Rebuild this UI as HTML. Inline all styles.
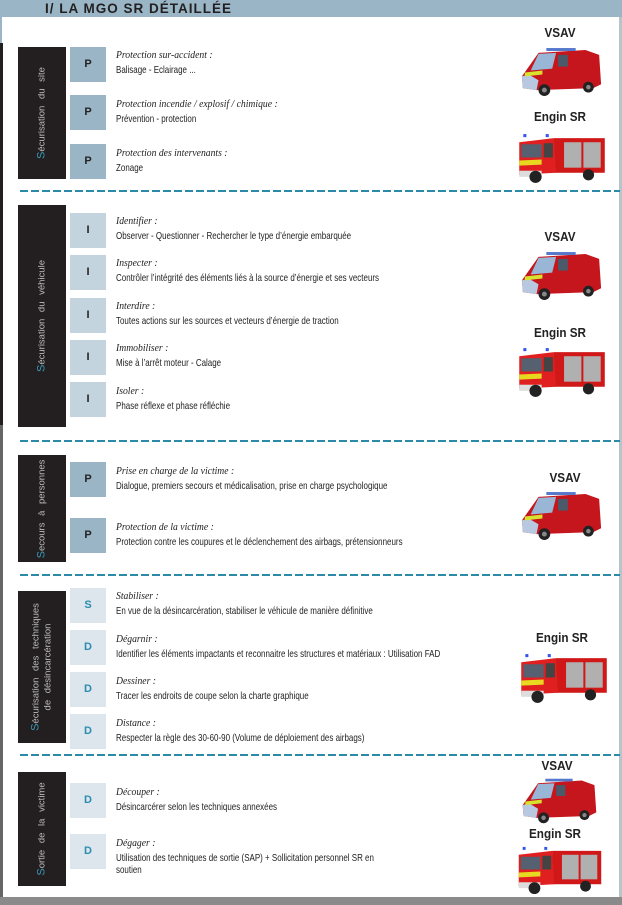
<!DOCTYPE html>
<html><head><meta charset="utf-8">
<style>
*{margin:0;padding:0;box-sizing:border-box}
body{width:622px;height:905px;position:relative;background:#fff;overflow:hidden;font-family:"Liberation Sans",sans-serif}
.a{position:absolute}
.hdr{left:0;top:0;width:622px;height:17px;background:#9ab6c6}
.ttl{left:45px;top:0px;font-weight:bold;font-size:13.5px;letter-spacing:1px;color:#231f20;line-height:17px}
.dk{background:#231f20;left:18px;width:48px}
.vt{position:absolute;left:50%;top:50%;transform:translate(-50%,-50%) rotate(-90deg);color:#bdbdbd;font-size:9.5px;white-space:nowrap;text-align:center;line-height:12px;word-spacing:4px}
.vt b{color:#3a9ab8;font-weight:normal;font-size:11px}
.bx{left:70px;width:36px;height:35px;text-align:center;line-height:35px;font-weight:bold;font-size:11px}
.p{background:#9ab6c6;color:#232323}
.i{background:#c3d4de;color:#232323}
.s{background:#dde6ed;color:#2a8cb0}
.t{left:116px;font-family:"Liberation Serif",serif;font-style:italic;font-size:10.5px;color:#222;white-space:nowrap;transform:scaleX(0.92);transform-origin:0 0}
.d{left:116px;font-size:10.5px;color:#222;white-space:nowrap;transform:scaleX(0.76);transform-origin:0 0;line-height:12px}
.dash{left:20px;width:600px;height:1.5px;background:repeating-linear-gradient(90deg,#2b8aa8 0 8px,transparent 8px 11px)}
.lbl{font-weight:bold;font-size:13px;color:#222;text-align:center;width:90px;transform:scaleX(0.9)}
</style></head><body>
<svg width="0" height="0" style="position:absolute">
<defs>
<symbol id="vsav" viewBox="0 0 90 55">
<path d="M10 25 L22 8 L70 5 L84 10 L86 40 L78 44 L20 46 L6 44 L5 32 Z" fill="#c4161c"/>
<path d="M5 32 L6 44 L20 46 L22 36 L12 30 Z" fill="#b8c8e0"/>
<path d="M22 9 L40 8 L36 24 L14 26 Z" fill="#9ab6d6"/>
<rect x="42" y="10" width="10" height="12" fill="#4a5a6a"/>
<rect x="30" y="3" width="30" height="3" fill="#5577cc"/>
<path d="M8 28 L26 26 L26 30 L8 32 Z" fill="#d8e030"/>
<circle cx="28" cy="46" r="6" fill="#222"/><circle cx="73" cy="43" r="5.5" fill="#222"/>
<circle cx="28" cy="46" r="2.5" fill="#888"/><circle cx="73" cy="43" r="2.3" fill="#888"/>
</symbol>
<symbol id="sr" viewBox="0 0 90 55">
<rect x="38" y="8" width="50" height="34" fill="#d01818"/>
<path d="M4 12 L38 8 L40 42 L4 44 Z" fill="#e02020"/>
<rect x="6" y="14" width="20" height="13" fill="#556070"/>
<rect x="28" y="13" width="9" height="14" fill="#444"/>
<rect x="48" y="12" width="17" height="25" fill="#b0b0b0"/>
<rect x="67" y="12" width="17" height="25" fill="#b0b0b0"/>
<path d="M4 30 L26 29 L26 34 L4 35 Z" fill="#e8d820"/>
<rect x="4" y="40" width="22" height="6" fill="#ddd"/>
<rect x="8" y="4" width="3" height="3" fill="#3355ee"/><rect x="30" y="4" width="3" height="3" fill="#3355ee"/>
<circle cx="20" cy="46" r="6" fill="#222"/><circle cx="72" cy="44" r="5.5" fill="#222"/>
</symbol>
</defs></svg>

<div class="a hdr"></div>
<div class="a ttl">I/ LA MGO SR DÉTAILLÉE</div>
<div class="a" style="left:0;top:17px;width:2px;height:26px;background:#9ab6c6"></div>
<div class="a" style="left:0;top:43px;width:3px;height:382px;background:#231f20"></div>
<div class="a" style="left:0;top:425px;width:3px;height:475px;background:#666"></div>
<div class="a" style="left:619px;top:17px;width:3px;height:885px;background:#b8c4cc"></div>
<div class="a" style="left:0;top:897px;width:622px;height:8px;background:#8a8a8a"></div>

<!-- Section 1 -->
<div class="a dk" style="top:47px;height:132px"><div class="vt"><b>S</b>écurisation du site</div></div>
<div class="a bx p" style="top:47px">P</div>
<div class="a t" style="top:50px">Protection sur-accident :</div>
<div class="a d" style="top:64px">Balisage - Eclairage ...</div>
<div class="a bx p" style="top:95px">P</div>
<div class="a t" style="top:99px">Protection incendie / explosif / chimique :</div>
<div class="a d" style="top:113px">Prévention - protection</div>
<div class="a bx p" style="top:144px">P</div>
<div class="a t" style="top:148px">Protection des intervenants :</div>
<div class="a d" style="top:162px">Zonage</div>
<div class="a dash" style="top:190px"></div>

<!-- Section 2 -->
<div class="a dk" style="top:205px;height:222px"><div class="vt"><b>S</b>écurisation du véhicule</div></div>
<div class="a bx i" style="top:213px">I</div>
<div class="a t" style="top:216px">Identifier :</div>
<div class="a d" style="top:230px">Observer - Questionner - Rechercher le type d’énergie embarquée</div>
<div class="a bx i" style="top:255px">I</div>
<div class="a t" style="top:258px">Inspecter :</div>
<div class="a d" style="top:272px">Contrôler l’intégrité des éléments liés à la source d’énergie et ses vecteurs</div>
<div class="a bx i" style="top:298px">I</div>
<div class="a t" style="top:301px">Interdire :</div>
<div class="a d" style="top:315px">Toutes actions sur les sources et vecteurs d’énergie de traction</div>
<div class="a bx i" style="top:340px">I</div>
<div class="a t" style="top:343px">Immobiliser :</div>
<div class="a d" style="top:357px">Mise à l’arrêt moteur - Calage</div>
<div class="a bx i" style="top:382px">I</div>
<div class="a t" style="top:386px">Isoler :</div>
<div class="a d" style="top:400px">Phase réflexe et phase réfléchie</div>
<div class="a dash" style="top:440px"></div>

<!-- Section 3 -->
<div class="a dk" style="top:455px;height:107px"><div class="vt"><b>S</b>ecours à personnes</div></div>
<div class="a bx p" style="top:462px">P</div>
<div class="a t" style="top:466px">Prise en charge de la victime :</div>
<div class="a d" style="top:480px">Dialogue, premiers secours et médicalisation, prise en charge psychologique</div>
<div class="a bx p" style="top:518px">P</div>
<div class="a t" style="top:522px">Protection de la victime :</div>
<div class="a d" style="top:536px">Protection contre les coupures et le déclenchement des airbags, prétensionneurs</div>
<div class="a dash" style="top:574px"></div>

<!-- Section 4 -->
<div class="a dk" style="top:591px;height:152px"><div class="vt"><b>S</b>écurisation des techniques<br>de désincarcération</div></div>
<div class="a bx s" style="top:588px">S</div>
<div class="a t" style="top:591px">Stabiliser :</div>
<div class="a d" style="top:605px">En vue de la désincarcération, stabiliser le véhicule de manière définitive</div>
<div class="a bx s" style="top:630px">D</div>
<div class="a t" style="top:634px">Dégarnir :</div>
<div class="a d" style="top:648px">Identifier les éléments impactants et reconnaitre les structures et matériaux : Utilisation FAD</div>
<div class="a bx s" style="top:672px">D</div>
<div class="a t" style="top:676px">Dessiner :</div>
<div class="a d" style="top:690px">Tracer les endroits de coupe selon la charte graphique</div>
<div class="a bx s" style="top:714px">D</div>
<div class="a t" style="top:718px">Distance :</div>
<div class="a d" style="top:732px">Respecter la règle des 30-60-90 (Volume de déploiement des airbags)</div>
<div class="a dash" style="top:754px"></div>

<!-- Section 5 -->
<div class="a dk" style="top:772px;height:114px"><div class="vt"><b>S</b>ortie de la victime</div></div>
<div class="a bx s" style="top:783px">D</div>
<div class="a t" style="top:787px">Découper :</div>
<div class="a d" style="top:801px">Désincarcérer selon les techniques annexées</div>
<div class="a bx s" style="top:834px">D</div>
<div class="a t" style="top:838px">Dégager :</div>
<div class="a d" style="top:852px">Utilisation des techniques de sortie (SAP) + Sollicitation personnel SR en<br>soutien</div>

<!-- Vehicles -->
<div class="a lbl" style="left:515px;top:25px">VSAV</div>
<svg class="a" style="left:517px;top:45px" width="88" height="54"><use href="#vsav"/></svg>
<div class="a lbl" style="left:515px;top:109px">Engin SR</div>
<svg class="a" style="left:515px;top:130px" width="92" height="56"><use href="#sr"/></svg>

<div class="a lbl" style="left:515px;top:229px">VSAV</div>
<svg class="a" style="left:517px;top:249px" width="88" height="54"><use href="#vsav"/></svg>
<div class="a lbl" style="left:515px;top:325px">Engin SR</div>
<svg class="a" style="left:515px;top:344px" width="92" height="56"><use href="#sr"/></svg>

<div class="a lbl" style="left:520px;top:470px">VSAV</div>
<svg class="a" style="left:517px;top:489px" width="88" height="54"><use href="#vsav"/></svg>

<div class="a lbl" style="left:517px;top:630px">Engin SR</div>
<svg class="a" style="left:517px;top:650px" width="92" height="56"><use href="#sr"/></svg>

<div class="a lbl" style="left:512px;top:758px">VSAV</div>
<svg class="a" style="left:515px;top:776px" width="88" height="50"><use href="#vsav"/></svg>
<div class="a lbl" style="left:510px;top:826px">Engin SR</div>
<svg class="a" style="left:513px;top:843px" width="92" height="54"><use href="#sr"/></svg>
</body></html>
